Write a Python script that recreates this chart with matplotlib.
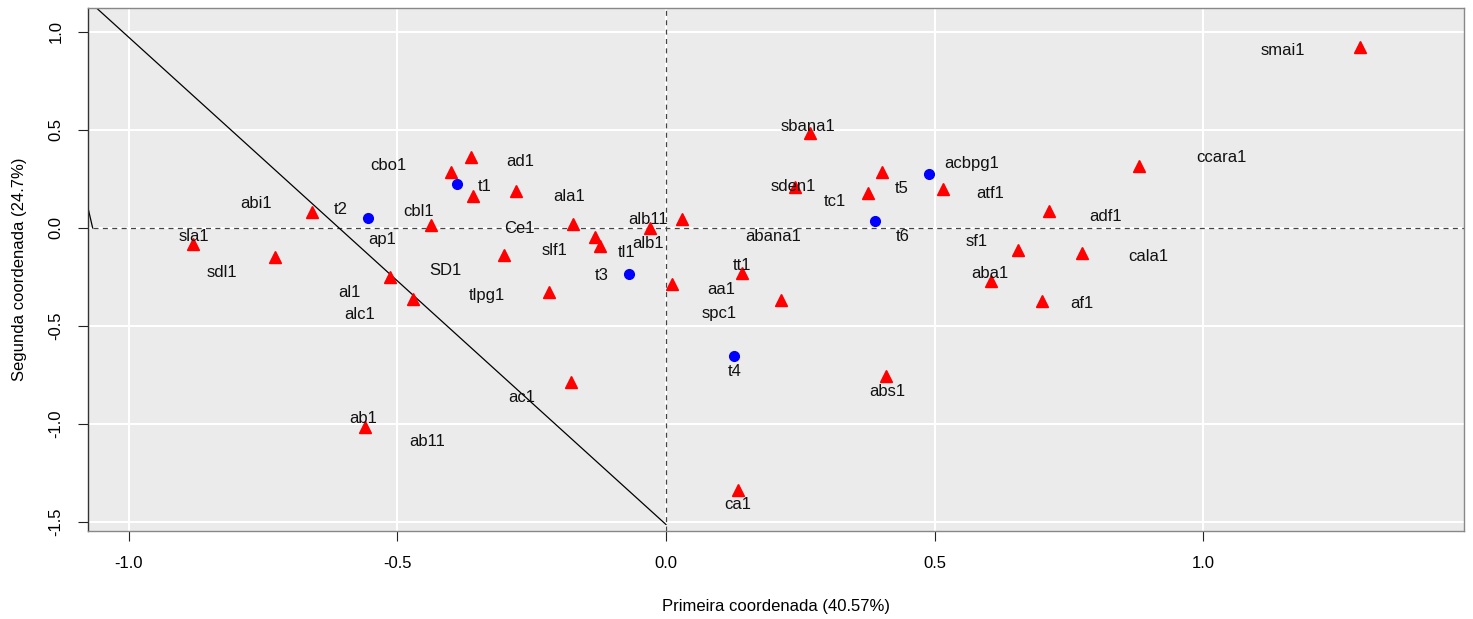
import matplotlib
matplotlib.use("Agg")
import matplotlib.pyplot as plt

plt.rcParams['font.family'] = ['Liberation Sans', 'DejaVu Sans']

# Pontos (triangulos vermelhos)
tri_x = [-0.363, -0.401, -0.360, -0.279, -0.438, -0.174, -0.132, -0.123, -0.030, 0.030,
         -0.301, -0.218, 0.011, -0.471, -0.660, -0.880, -0.729, -0.514, -0.176, -0.561,
         0.135, 0.142, 0.214, 0.268, 0.240, 0.377, 0.402, 0.515, 0.714, 0.656,
         0.775, 0.606, 0.701, 0.881, 1.292, 0.410]
tri_y = [0.364, 0.287, 0.163, 0.190, 0.015, 0.019, -0.044, -0.092, -0.002, 0.046,
         -0.138, -0.328, -0.287, -0.364, 0.083, -0.082, -0.146, -0.248, -0.784, -1.014,
         -1.337, -0.231, -0.367, 0.483, 0.208, 0.177, 0.287, 0.201, 0.085, -0.112,
         -0.129, -0.270, -0.372, 0.318, 0.925, -0.755]

# Pontos (circulos azuis)
circ_x = [-0.389, -0.554, -0.068, 0.127, 0.490, 0.389]
circ_y = [0.224, 0.050, -0.235, -0.653, 0.274, 0.036]

# Rotulos
lab_txt = ["smai1", "ccara1", "atf1", "adf1", "sf1", "cala1", "aba1", "af1", "acbpg1", "tc1",
           "sbana1", "sden1", "tt1", "aa1", "spc1", "abana1", "abs1", "ca1", "ac1", "ab1",
           "ab11", "ad1", "ala1", "cbl1", "Ce1", "alb11", "alb1", "slf1", "tl1", "SD1",
           "tlpg1", "cbo1", "abi1", "sla1", "ap1", "sdl1", "al1", "alc1",
           "t1", "t2", "t3", "t4", "t5", "t6"]
lab_x = [1.149, 1.035, 0.603, 0.818, 0.579, 0.898, 0.603, 0.775, 0.569, 0.315,
         0.265, 0.237, 0.141, 0.102, 0.099, 0.199, 0.412, 0.134, -0.269, -0.564,
         -0.444, -0.272, -0.180, -0.460, -0.273, -0.033, -0.033, -0.207, -0.073, -0.410,
         -0.334, -0.517, -0.763, -0.880, -0.529, -0.827, -0.590, -0.570,
         -0.337, -0.605, -0.119, 0.127, 0.439, 0.441]
lab_y = [0.905, 0.362, 0.178, 0.058, -0.070, -0.148, -0.231, -0.384, 0.330, 0.134,
         0.520, 0.214, -0.189, -0.316, -0.435, -0.041, -0.832, -1.413, -0.866, -0.971,
         -1.090, 0.338, 0.163, 0.083, -0.002, 0.041, -0.078, -0.116, -0.126, -0.218,
         -0.342, 0.321, 0.126, -0.041, -0.061, -0.228, -0.328, -0.439,
         0.211, 0.095, -0.245, -0.733, 0.202, -0.044]

# Linhas
linha_x = [0.0, -1.2]
linha_y = [-1.513, 1.469]
seg_x = [-1.0676, -1.09]
seg_y = [0.0, 0.264]

xticks = [-1.0, -0.5, 0.0, 0.5, 1.0]
yticks = [1.0, 0.5, 0.0, -0.5, -1.0, -1.5]

fig = plt.figure(figsize=(14.73, 6.19), dpi=100)
ax = fig.add_axes([0.0597, 0.1422, 0.9342, 0.8449])
ax.set_facecolor('#EBEBEB')
ax.set_xlim(-1.0764, 1.486)
ax.set_ylim(-1.546, 1.1224)

ax.set_xticks(xticks)
ax.set_yticks(yticks)
ax.set_xticklabels([f"{v:.1f}" for v in xticks])
ax.set_yticklabels([f"{v:.1f}" for v in yticks], rotation=90, va='center')
ax.grid(True, color='white', linewidth=1.5)
ax.set_axisbelow(True)
ax.tick_params(length=7.2, width=0.8, color='#222222', labelsize=12, pad=10.5)

for s in ax.spines.values():
    s.set_color('#888888')
    s.set_linewidth(1)
ax.spines['left'].set_color('#333333')

tracejado = (0, (4, 3.5))
ax.axvline(0, color='#444444', linestyle=tracejado, linewidth=0.9, zorder=2)
ax.plot([-1.0676, 1.6], [0, 0], color='#444444', linestyle=tracejado, linewidth=0.9, zorder=2)
ax.plot(linha_x, linha_y, color='black', linewidth=0.9, zorder=2)
ax.plot(seg_x, seg_y, color='black', linewidth=0.9, zorder=2)

ax.plot(tri_x, tri_y, linestyle='none', marker='^', color='#FF0000', markersize=8.5, zorder=3)
ax.plot(circ_x, circ_y, linestyle='none', marker='o', color='#0000FF', markersize=7, zorder=3)

for t, x, y in zip(lab_txt, lab_x, lab_y):
    ax.text(x, y, t, ha='center', va='center', fontsize=12, color='#111111', zorder=4)

ax.set_xlabel("Primeira coordenada (40.57%)", fontsize=12)
ax.set_ylabel("Segunda coordenada (24.7%)", fontsize=12)
ax.xaxis.set_label_coords(0.5, -0.130)
ax.yaxis.set_label_coords(-0.044, 0.5)

fig.savefig("out.png", dpi=100)
